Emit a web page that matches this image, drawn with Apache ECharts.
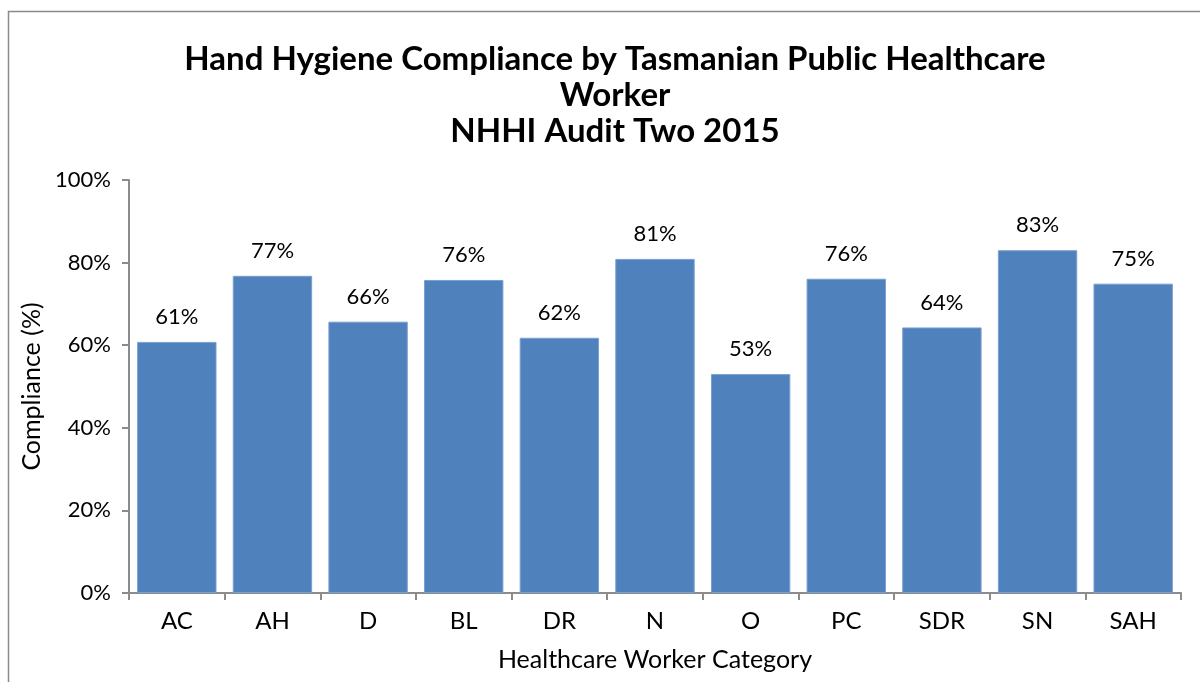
<!DOCTYPE html>
<html>
<head>
<meta charset="utf-8">
<script src="https://cdn.jsdelivr.net/npm/echarts@6/dist/echarts.min.js"></script>
<style>
  html, body { margin: 0; padding: 0; background: #fff; }
  #chart { width: 1200px; height: 682px; }
</style>
</head>
<body>
<div id="chart"></div>
<script>
const categories = ["AC", "AH", "D", "BL", "DR", "N", "O", "PC", "SDR", "SN", "SAH"];
const compliance = [60.8, 76.8, 65.7, 75.8, 61.8, 80.9, 53.0, 76.1, 64.3, 83.0, 74.9]; // %
const yTicks = [0, 20, 40, 60, 80, 100];

const font = "Lato, 'DejaVu Sans', sans-serif";
const axisGray = "#8c8c8c";

var chart = echarts.init(document.getElementById("chart"));
chart.setOption({
  animation: false,
  backgroundColor: "#fff",
  textStyle: { fontFamily: font },
  graphic: [
    {
      // outer chart frame (runs off the right and bottom edges)
      type: "rect",
      shape: { x: 8.5, y: 11.5, width: 1300, height: 800 },
      style: { fill: null, stroke: "#8a8a8a", lineWidth: 1.5 },
      silent: true,
    },
  ],
  title: {
    text: "Hand Hygiene Compliance by Tasmanian Public Healthcare\nWorker\nNHHI Audit Two 2015",
    left: 610,
    top: 36,
    textAlign: "center",
    textStyle: {
      fontFamily: font,
      fontSize: 33,
      fontWeight: "bold",
      color: "#000",
      lineHeight: 36,
    },
  },
  grid: {
    left: 129,
    right: 19,
    top: 180,
    bottom: 89,
    containLabel: false,
  },
  xAxis: {
    type: "category",
    data: categories,
    name: "Healthcare Worker Category",
    nameLocation: "middle",
    nameGap: 54,
    nameTextStyle: { fontFamily: font, fontSize: 25, color: "#000" },
    axisLine: { show: true, lineStyle: { color: axisGray, width: 2 } },
    axisTick: { show: true, alignWithLabel: false, length: 7, lineStyle: { color: axisGray, width: 2 } },
    axisLabel: { fontFamily: font, fontSize: 24, color: "#000", margin: 16 },
  },
  yAxis: {
    type: "value",
    min: 0,
    max: 100,
    interval: 20,
    name: "Compliance (%)",
    nameLocation: "middle",
    nameGap: 80,
    nameRotate: 90,
    nameTextStyle: { fontFamily: font, fontSize: 25, color: "#000" },
    splitLine: { show: false },
    axisLine: { show: true, lineStyle: { color: axisGray, width: 2 } },
    axisTick: { show: true, length: 7, lineStyle: { color: axisGray, width: 2 } },
    axisLabel: {
      fontFamily: font,
      fontSize: 22,
      color: "#000",
      margin: 18,
      formatter: function (v) {
        return yTicks.indexOf(v) >= 0 ? v + "%" : "";
      },
    },
  },
  series: [
    {
      type: "bar",
      data: compliance,
      barCategoryGap: "17%",
      itemStyle: { color: "#4f81bd", borderColor: "#7a9fd0", borderWidth: 1 },
      label: {
        show: true,
        position: "top",
        distance: 14,
        fontFamily: font,
        fontSize: 22,
        color: "#000",
        formatter: function (p) {
          return Math.round(p.value) + "%";
        },
      },
    },
  ],
});
</script>
</body>
</html>
